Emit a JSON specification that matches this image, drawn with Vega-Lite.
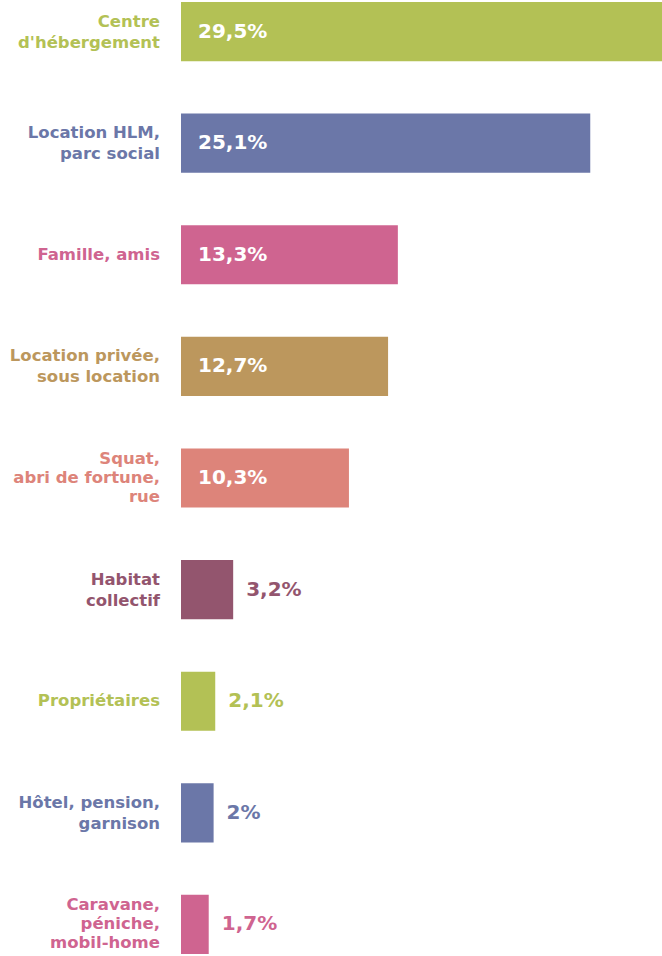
{
  "$schema": "https://vega.github.io/schema/vega-lite/v6.json",
  "width": 481,
  "height": 956,
  "autosize": "none",
  "padding": {"left": 181, "top": 0, "right": 0, "bottom": 0},
  "background": "white",
  "config": {"view": {"stroke": null}},
  "data": {
    "values": [
      {"cat": "Centre d'hébergement", "label": "Centre\nd'hébergement", "value": 29.5, "pct": "29,5%"},
      {"cat": "Location HLM, parc social", "label": "Location HLM,\nparc social", "value": 25.1, "pct": "25,1%"},
      {"cat": "Famille, amis", "label": "Famille, amis", "value": 13.3, "pct": "13,3%"},
      {"cat": "Location privée, sous location", "label": "Location privée,\nsous location", "value": 12.7, "pct": "12,7%"},
      {"cat": "Squat, abri de fortune, rue", "label": "Squat,\nabri de fortune,\nrue", "value": 10.3, "pct": "10,3%"},
      {"cat": "Habitat collectif", "label": "Habitat\ncollectif", "value": 3.2, "pct": "3,2%"},
      {"cat": "Propriétaires", "label": "Propriétaires", "value": 2.1, "pct": "2,1%"},
      {"cat": "Hôtel, pension, garnison", "label": "Hôtel, pension,\ngarnison", "value": 2.0, "pct": "2%"},
      {"cat": "Caravane, péniche, mobil-home", "label": "Caravane,\npéniche,\nmobil-home", "value": 1.7, "pct": "1,7%"}
    ]
  },
  "transform": [{"calculate": "length(split(datum.label, '\\n'))", "as": "nlines"}],
  "encoding": {
    "y": {"field": "cat", "type": "nominal", "sort": null, "axis": null,
          "scale": {"paddingInner": 0.47, "paddingOuter": 0.018}},
    "color": {"field": "cat", "type": "nominal", "legend": null,
      "scale": {
        "domain": ["Centre d'hébergement", "Location HLM, parc social", "Famille, amis", "Location privée, sous location", "Squat, abri de fortune, rue", "Habitat collectif", "Propriétaires", "Hôtel, pension, garnison", "Caravane, péniche, mobil-home"],
        "range": ["#b3c155", "#6b77a8", "#cf6490", "#bc975d", "#dd847a", "#93556e", "#b3c155", "#6b77a8", "#cf6490"]
      }}
  },
  "layer": [
    {
      "mark": {"type": "bar"},
      "encoding": {
        "x": {"field": "value", "type": "quantitative", "axis": null, "scale": {"domain": [0, 29.5], "nice": false}}
      }
    },
    {
      "transform": [{"filter": "datum.nlines == 1"}],
      "mark": {"type": "text", "align": "right", "baseline": "middle", "dx": -21, "dy": 0, "fontSize": 16.5, "fontWeight": "bold", "font": "DejaVu Sans", "lineBreak": "\n", "lineHeight": 20},
      "encoding": {
        "x": {"datum": 0, "type": "quantitative"},
        "text": {"field": "label"}
      }
    },
    {
      "transform": [{"filter": "datum.nlines == 2"}],
      "mark": {"type": "text", "align": "right", "baseline": "middle", "dx": -21, "dy": -10, "fontSize": 16.5, "fontWeight": "bold", "font": "DejaVu Sans", "lineBreak": "\n", "lineHeight": 21},
      "encoding": {
        "x": {"datum": 0, "type": "quantitative"},
        "text": {"field": "label"}
      }
    },
    {
      "transform": [{"filter": "datum.nlines == 3"}],
      "mark": {"type": "text", "align": "right", "baseline": "middle", "dx": -21, "dy": -19, "fontSize": 16.5, "fontWeight": "bold", "font": "DejaVu Sans", "lineBreak": "\n", "lineHeight": 19},
      "encoding": {
        "x": {"datum": 0, "type": "quantitative"},
        "text": {"field": "label"}
      }
    },
    {
      "transform": [{"filter": "datum.value > 5"}],
      "mark": {"type": "text", "align": "left", "baseline": "middle", "dx": 17, "fontSize": 20, "fontWeight": "bold", "font": "DejaVu Sans"},
      "encoding": {
        "x": {"datum": 0, "type": "quantitative"},
        "text": {"field": "pct"},
        "color": {"value": "white"}
      }
    },
    {
      "transform": [{"filter": "datum.value <= 5"}],
      "mark": {"type": "text", "align": "left", "baseline": "middle", "dx": 13, "fontSize": 20, "fontWeight": "bold", "font": "DejaVu Sans"},
      "encoding": {
        "x": {"field": "value", "type": "quantitative"},
        "text": {"field": "pct"}
      }
    }
  ]
}
